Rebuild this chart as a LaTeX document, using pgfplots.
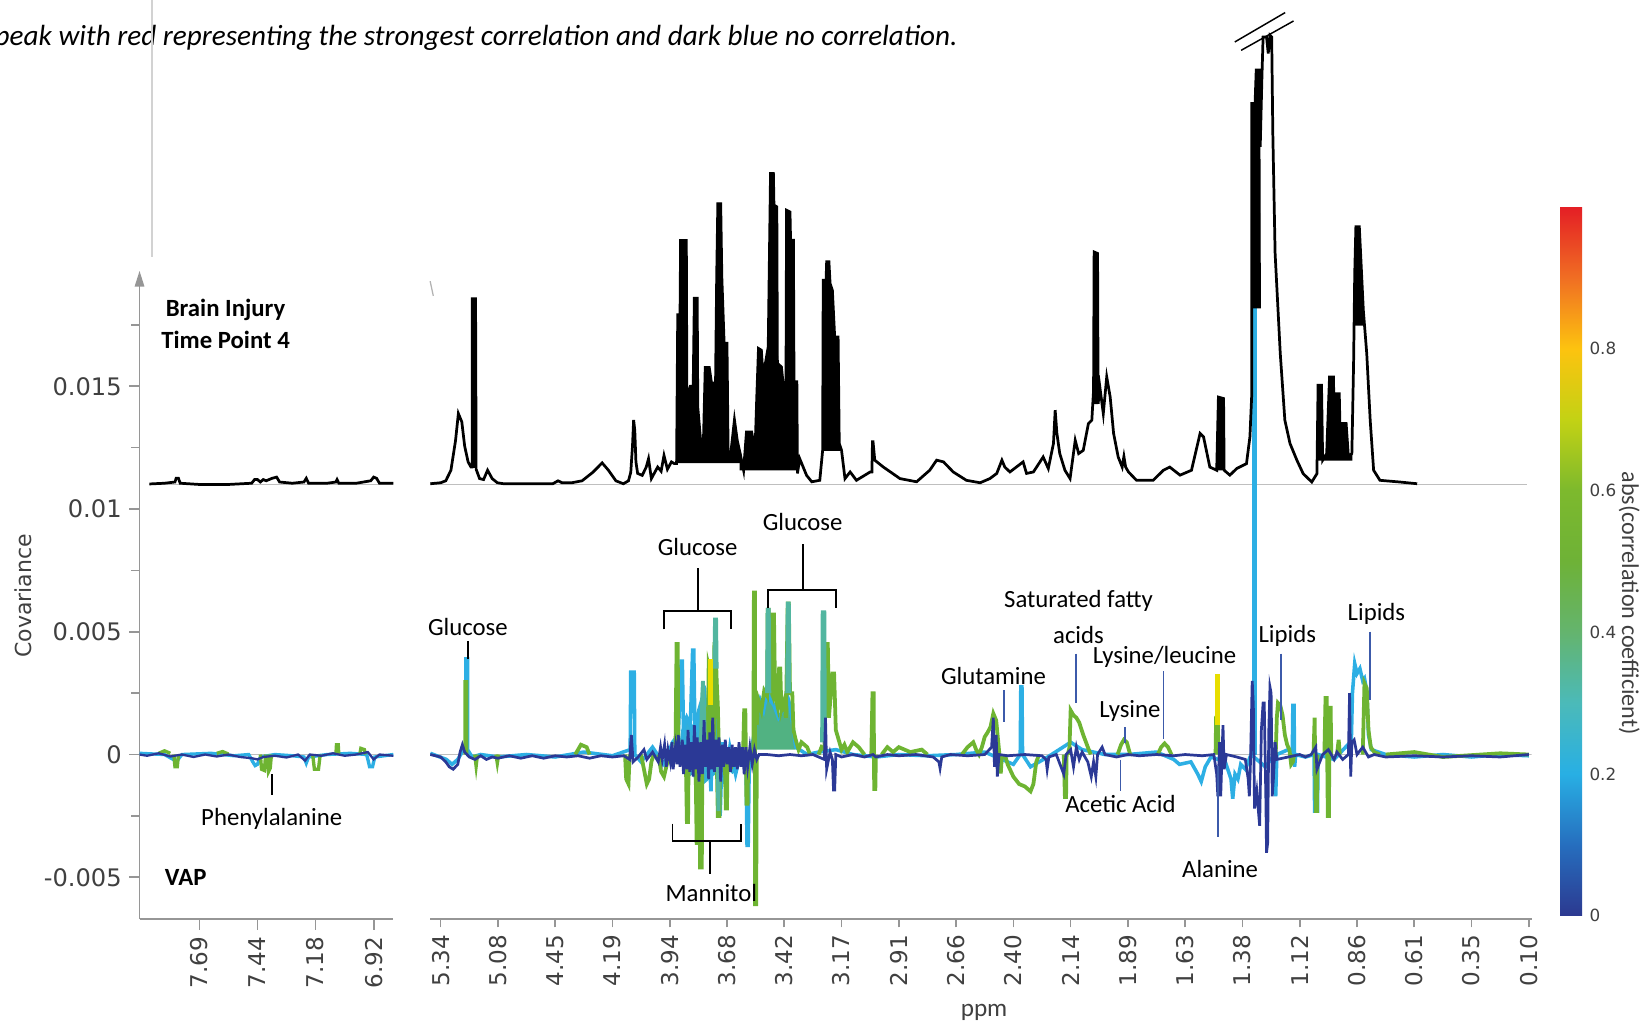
\documentclass[border=0pt]{standalone}
\usepackage{pgfplots}
\pgfplotsset{compat=1.18}
\usepackage{fontspec}
\setmainfont{Carlito}
\newfontfamily\dejavu{DejaVu Sans}
\usetikzlibrary{arrows.meta}

\definecolor{cdb}{RGB}{43,57,150}
\definecolor{clb}{RGB}{45,175,228}
\definecolor{cteal}{RGB}{82,182,160}
\definecolor{cgr}{RGB}{110,180,50}
\definecolor{cyel}{RGB}{232,222,0}
\definecolor{cptr}{RGB}{60,90,170}
\definecolor{axgray}{RGB}{150,150,150}
\definecolor{txtgray}{RGB}{64,64,64}

\pgfplotsset{colormap={corr}{rgb255(0cm)=(44,57,144) rgb255(1cm)=(38,110,190) rgb255(2cm)=(40,175,228) rgb255(3cm)=(75,186,185) rgb255(4cm)=(100,180,110) rgb255(5cm)=(110,178,55) rgb255(6cm)=(125,185,45) rgb255(7cm)=(195,210,20) rgb255(8cm)=(253,195,15) rgb255(9cm)=(240,110,35) rgb255(10cm)=(228,30,37)}}

\newcommand\annfont{\fontsize{11.8}{12}\selectfont}

\begin{document}
\begin{tikzpicture}
\path[use as bounding box] (0,0) rectangle (784pt,489.5pt);
\node[anchor=east, font=\itshape\fontsize{13.9}{14}\selectfont, inner sep=0pt] at (456.5pt,471.5pt) {peak with red representing the strongest correlation and dark blue no correlation.};
\draw[gray!35, line width=0.6pt] (72.5pt,489.5pt) -- (72.5pt,367pt);

% ---------------- left panel ----------------
\begin{axis}[
  at={(66.5pt,51.5pt)}, anchor=south west,
  scale only axis, width=121pt, height=308.9pt,
  xmin=-1.03, xmax=3.34, ymin=-6.7, ymax=19.7,
  axis x line=bottom, axis y line=left,
  axis line style={axgray, line width=0.8pt},
  x axis line style={-},
  y axis line style={-{Triangle[width=4.5pt,length=7.5pt]}},
  xtick={0,1,2,3}, xticklabels={7.69,7.44,7.18,6.92},
  ytick={-5,0,5,10,15}, yticklabels={-0.005,0,0.005,0.01,0.015},
  minor ytick={-2.5,2.5,7.5,12.5,17.5},
  tick align=outside, major tick length=5pt, minor tick length=4pt,
  tick style={axgray, line width=0.8pt},
  xticklabel style={rotate=90, anchor=east, font=\dejavu\fontsize{11}{11}\selectfont, text=txtgray},
  yticklabel style={font=\dejavu\fontsize{11.5}{12}\selectfont, text=txtgray},
  unbounded coords=jump,
]
\addplot[gray!50, line width=0.4pt] coordinates {(-1.03,0) (3.34,0)};
\addplot[gray!50, line width=0.4pt] coordinates {(-0.86,11.0) (3.34,11.0)};
\addplot[clb, line width=1.6pt] coordinates {(-1.03,0.05)(-0.6,0)(-0.45,-0.2)(-0.40,-0.3)(-0.30,0)(0.2,0.05)(0.6,-0.05)(0.85,0)(0.92,-0.3)(0.96,-0.45)(1.0,-0.4)(1.05,-0.1)(1.3,0)(1.6,-0.05)(1.80,-0.1)(1.84,-0.35)(1.88,-0.1)(2.2,0)(2.6,0.05)(2.88,0)(2.93,-0.5)(2.98,-0.5)(3.02,-0.1)(3.34,0)};
\addplot[cgr, line width=1.6pt] coordinates {(-0.44,0)(-0.42,-0.5)(-0.38,-0.5)(-0.36,0) (0,nan) (-0.7,0.05)(-0.6,0.15)(-0.5,0.05) (0,nan) (1.05,0)(1.07,-0.6)(1.12,-0.65)(1.14,0) (0,nan) (1.17,0)(1.19,-0.7)(1.22,-0.55)(1.24,0) (0,nan) (1.95,0)(1.98,-0.6)(2.05,-0.6)(2.08,0) (0,nan) (2.35,0)(2.36,0.4)(2.39,0.4)(2.40,0) (0,nan) (2.76,0)(2.78,0.25)(2.84,0.2)(2.86,0) (0,nan) (0.3,0.05)(0.4,0.12)(0.5,0.02)};
\addplot[cdb, line width=1.1pt] coordinates {(-1.03,0)(-0.9,-0.05)(-0.7,0.05)(-0.5,-0.08)(-0.3,0)(-0.1,-0.1)(0.1,0)(0.3,-0.08)(0.5,0)(0.7,-0.1)(0.9,-0.15)(1.0,-0.2)(1.1,-0.1)(1.3,-0.05)(1.5,-0.12)(1.7,0)(1.82,-0.25)(1.9,0)(2.1,-0.05)(2.3,0.05)(2.5,-0.05)(2.7,0)(2.9,0.1)(3.0,-0.2)(3.1,0)(3.34,-0.05)};
\addplot[black, line width=1.3pt] coordinates {(-0.86,11.02)(-0.6,11.05)(-0.42,11.1)(-0.40,11.25)(-0.36,11.25)(-0.33,11.05)(0,11.0)(0.5,11.0)(0.9,11.05)(0.95,11.2)(1.0,11.2)(1.05,11.1)(1.10,11.2)(1.15,11.15)(1.25,11.25)(1.33,11.3)(1.38,11.1)(1.6,11.05)(1.8,11.1)(1.84,11.25)(1.88,11.05)(2.2,11.05)(2.35,11.1)(2.37,11.2)(2.40,11.05)(2.7,11.05)(2.95,11.15)(3.0,11.3)(3.05,11.25)(3.1,11.05)(3.34,11.05)};
\end{axis}

% ---------------- right panel ----------------
\begin{axis}[
  at={(205pt,51.5pt)}, anchor=south west,
  scale only axis, width=525pt, height=429.4pt,
  xmin=-0.183, xmax=19.05, ymin=-6.7, ymax=30,
  axis x line=bottom, axis y line=none,
  axis line style={axgray, line width=0.8pt, -},
  xtick={0,1,2,3,4,5,6,7,8,9,10,11,12,13,14,15,16,17,18,19},
  xticklabels={5.34,5.08,4.45,4.19,3.94,3.68,3.42,3.17,2.91,2.66,2.40,2.14,1.89,1.63,1.38,1.12,0.86,0.61,0.35,0.10},
  ytick=\empty,
  tick align=outside, major tick length=4pt,
  tick style={axgray, line width=0.8pt},
  xticklabel style={rotate=90, anchor=east, font=\dejavu\fontsize{11}{11}\selectfont, text=txtgray},
  unbounded coords=jump,
  colormap name=corr, point meta min=0, point meta max=1,
  colorbar,
  colorbar style={at={(parent axis.south east)}, anchor=south west, xshift=5pt, yshift=1.5pt,
    width=10.5pt, height=338pt, ytick={0,0.2,0.4,0.6,0.8}, yticklabels={0,0.2,0.4,0.6,0.8},
    yticklabel style={font=\dejavu\fontsize{8}{8}\selectfont, text=txtgray},
    axis line style={draw=none}, major tick length=0pt},
]
\addplot[gray!50, line width=0.4pt] coordinates {(-0.18,0) (19.05,0)};
\addplot[gray!50, line width=0.4pt] coordinates {(-0.18,11.0) (18.97,11.0)};
% light blue / teal body areas
\addplot[fill=clb!85!cteal, draw=none] coordinates {(4.15,0)(4.2,1.0)(4.3,1.5)(4.4,1.2)(4.5,2.0)(4.6,2.8)(4.66,2.0)(4.72,1.2)(4.78,2.5)(4.82,1.0)(4.9,0.5)(5.0,0.3)(5.0,0)} -- cycle;
\addplot[fill=clb!80!cteal, draw=none] coordinates {(4.25,0)(4.3,-1.0)(4.4,-0.8)(4.5,-1.5)(4.6,-1.2)(4.7,-1.0)(4.8,-0.8)(4.9,-1.0)(5.0,-0.6)(5.1,-0.8)(5.2,-0.5)(5.3,-0.3)(5.3,0)} -- cycle;
\addplot[fill=cgr!55!clb, draw=none] coordinates {(5.50,0.2)(5.52,1.5)(5.58,2.4)(5.64,2.0)(5.70,2.8)(5.76,2.5)(5.82,2.2)(5.90,1.6)(5.98,2.0)(6.04,2.8)(6.10,2.2)(6.16,1.0)(6.20,0.2)} -- cycle;
% light blue
\addplot[clb, line width=1.7pt] coordinates {(-0.18,0.05) (0.1,-0.2) (0.2,-0.4) (0.3,-0.2) (0.40,0.2) (0.44,0.2) (0.44,3.9) (0.47,3.9) (0.47,0.2) (0.55,-0.1) (0.7,0) (1.0,-0.1) (1.5,0) (2.0,-0.1) (2.5,0.1) (3.0,-0.05) (3.31,0.2) (3.32,3.36) (3.38,3.36) (3.39,0) (3.5,-0.3) (3.7,0.3) (3.9,-0.4) (4.05,0.5) (4.15,0.8) (4.20,3.8) (4.22,3.8) (4.24,1.0) (4.30,1.5) (4.36,1.2) (4.40,4.25) (4.42,4.25) (4.44,1.0) (4.50,1.5) (4.56,2.0) (4.60,2.8) (4.64,1.5) (4.68,0.5) (4.72,-1.5) (4.76,2.5) (4.80,4.0) (4.84,1.0) (4.88,-2.5) (4.92,0.5) (4.96,-1.2) (5.05,0.3) (5.15,-0.8) (5.25,0.2) (5.33,0) (5.35,-3.7) (5.37,-3.7) (5.39,0) (5.45,0.5) (5.52,1.5) (5.58,2.2) (5.64,1.8) (5.70,2.5) (5.76,2.2) (5.82,2.0) (5.90,1.5) (5.98,1.8) (6.04,2.5) (6.10,2.0) (6.16,1.0) (6.20,0.3) (6.4,0) (6.6,0.1) (6.9,0.2) (7.2,0) (7.6,-0.1) (8.0,0) (8.5,-0.05) (9.0,0) (9.5,0.1) (10.0,-0.4) (10.12,0) (10.13,2.75) (10.15,2.75) (10.16,0) (10.3,-0.5) (10.6,-0.1) (11.0,0.5) (11.2,0.2) (11.6,0) (12.0,0) (12.5,0.1) (12.8,-0.2) (12.9,-0.4) (13.1,-0.3) (13.22,-0.8) (13.28,-1.1) (13.35,-0.5) (13.45,-0.1) (13.7,-0.3) (13.80,-1.0) (13.83,-1.8) (13.87,-0.8) (13.92,-1.0) (13.97,-0.4) (14.05,-0.6) (14.15,0) (14.40,-0.5) (14.56,0) (14.58,-1.7) (14.60,0) (14.80,0.2) (14.87,0) (14.88,2.0) (14.90,2.0) (14.91,-0.5) (14.93,0) (15.1,-0.1) (15.25,0) (15.26,-2.3) (15.31,-2.3) (15.32,0) (15.6,-0.2) (15.88,0.5) (15.90,0.5) (15.92,2.5) (15.96,3.7) (16.00,3.3) (16.05,3.5) (16.10,3.0) (16.13,3.1) (16.17,2.6) (16.20,0.8) (16.25,0.2) (16.5,0) (17.0,-0.1) (17.5,0) (18.0,-0.1) (18.5,0) (19.0,-0.05)};
\addplot[fill=clb, draw=clb, line width=0.3pt] coordinates {(14.165,0) (14.165,18.5) (14.245,18.5) (14.245,0)} -- cycle;
% green
\addplot[cgr, line width=1.8pt] coordinates {(0.43,0)(0.43,2.95)(0.45,2.95)(0.45,0) (0,nan) (0.60,0)(0.62,-0.4)(0.64,0) (0,nan) (0.97,0)(0.99,-0.3)(1.01,0) (0,nan) (2.35,0)(2.45,0.4)(2.55,0.3)(2.6,0) (0,nan) (3.22,0)(3.24,-1.0)(3.28,-1.2)(3.30,0) (0,nan) (3.50,0)(3.55,-0.6)(3.60,-1.2)(3.64,-1.0)(3.68,-0.3)(3.72,0) (0,nan) (3.80,0)(3.85,-0.7)(3.9,-0.9)(3.95,-0.4)(4.0,0) (0,nan) (4.10,0)(4.12,4.5)(4.14,4.5)(4.15,0) (0,nan) (4.28,0)(4.30,-2.75)(4.32,-2.75)(4.33,0) (0,nan) (4.45,0)(4.47,-3.6)(4.49,-3.6)(4.50,0) (0,nan) (4.52,0)(4.53,-4.6)(4.56,-4.6)(4.57,0) (0,nan) (4.66,0)(4.68,3.6)(4.72,3.2)(4.74,0) (0,nan) (4.77,0.5)(4.78,4.5)(4.80,4.5)(4.82,3.0)(4.84,2.0)(4.86,0) (0,nan) (4.82,0)(4.84,-2.5)(4.87,-2.5)(4.88,0) (0,nan) (4.96,0)(4.98,-2.2)(5.00,-2.2)(5.01,0) (0,nan) (5.05,0)(5.07,-0.6)(5.1,0) (0,nan) (5.28,0)(5.30,1.8)(5.32,1.8)(5.33,0)(5.34,-2.0)(5.36,-2.0)(5.37,0) (0,nan) (5.46,0)(5.47,6.6)(5.49,6.6)(5.49,-6.1)(5.51,-6.1)(5.52,0) (0,nan) (5.52,1.2)(5.55,2.2)(5.60,1.8)(5.65,2.6)(5.70,2.4)(5.71,5.9)(5.73,5.9)(5.75,2.8)(5.79,2.5)(5.80,5.7)(5.82,5.7)(5.84,2.4)(5.88,2.0)(5.91,3.5)(5.93,3.5)(5.95,1.8)(6.0,2.2)(6.03,1.5)(6.06,6.15)(6.08,6.15)(6.10,2.5)(6.14,2.5)(6.16,1.0)(6.20,0.6)(6.25,0.2)(6.3,0.5)(6.4,0.3)(6.45,0) (0,nan) (6.60,0)(6.65,0.3)(6.7,0.2)(6.74,4.5)(6.76,4.5)(6.78,1.5)(6.84,3.3)(6.87,3.3)(6.90,1.0)(6.95,0.6)(7.0,0.2)(7.05,0.4)(7.1,0.1)(7.2,0.5)(7.3,0.3)(7.4,0) (0,nan) (7.52,0)(7.54,2.5)(7.56,2.5)(7.57,-1.4)(7.59,-1.4)(7.60,0) (0,nan) (7.7,0)(7.8,0.3)(7.9,0.1)(8.0,0.3)(8.2,0.1)(8.4,0.2)(8.5,0) (0,nan) (9.1,0)(9.2,0.3)(9.3,0.5)(9.35,0.2)(9.40,0)(9.45,0.3)(9.50,0.72)(9.55,0.9)(9.60,1.12)(9.65,1.67)(9.70,1.39)(9.75,0.17)(9.78,-0.77)(9.80,0) (0,nan) (9.85,0)(9.9,-0.4)(10.0,-0.9)(10.1,-1.2)(10.2,-1.3)(10.3,-1.5)(10.35,-1.2)(10.40,-0.3)(10.45,0) (0,nan) (10.88,0)(10.90,-1.73)(10.92,-1.73)(10.93,0) (0,nan) (10.95,0)(10.98,0.3)(11.0,1.8)(11.05,1.6)(11.1,1.5)(11.15,1.3)(11.22,0.8)(11.3,0.3)(11.35,0) (0,nan) (11.82,0)(11.88,0.4)(11.93,0.6)(11.98,0.5)(12.04,0) (0,nan) (12.52,0)(12.58,0.3)(12.64,0.45)(12.70,0.3)(12.76,0) (0,nan) (13.53,0)(13.54,1.5)(13.57,1.5)(13.58,0) (0,nan) (14.58,0)(14.60,1.5)(14.62,2.1)(14.66,2.0)(14.70,1.6)(14.74,0.8)(14.78,0.4)(14.82,0.2)(14.85,-0.4)(14.88,-0.3)(14.9,0) (0,nan) (15.24,0)(15.26,1.5)(15.28,-2.3)(15.30,-2.3)(15.31,0) (0,nan) (15.43,0)(15.45,2.3)(15.47,2.3)(15.49,-2.5)(15.51,-2.5)(15.52,1.9)(15.54,1.9)(15.55,0) (0,nan) (15.65,0)(15.68,0.6)(15.70,0) (0,nan) (16.10,0)(16.13,2.9)(16.17,2.7)(16.20,1.0)(16.24,0.3)(16.3,0.1)(16.4,0) (0,nan) (16.5,0)(17.0,0.1)(17.5,-0.1)(18.5,0.05)(19.0,0)};
% teal
\addplot[cteal, line width=1.8pt] coordinates {(4.54,0)(4.56,2.0)(4.58,3.0)(4.60,1.8)(4.62,0) (0,nan) (4.78,3.5)(4.79,5.5)(4.81,5.5)(4.82,3.5) (0,nan) (5.70,2.5)(5.71,5.9)(5.73,5.9)(5.74,2.5) (0,nan) (6.05,2.5)(6.06,6.15)(6.08,6.15)(6.09,2.5) (0,nan) (6.66,0.5)(6.67,5.8)(6.70,5.8)(6.71,0.5) (0,nan) (4.83,0)(4.85,-2.3)(4.86,0)};
% yellow
\addplot[cyel, line width=1.8pt] coordinates {(4.70,2.0)(4.70,3.8)(4.72,3.8)(4.72,2.0) (0,nan) (13.55,1.2)(13.55,3.2)(13.57,3.2)(13.57,1.2)};
% dark blue
\addplot[cdb, line width=1.3pt] coordinates {(-0.18,0)(0.0,-0.1)(0.09,-0.3)(0.15,-0.5)(0.22,-0.6)(0.30,-0.4)(0.34,0.1)(0.38,0.4)(0.42,0.1)(0.50,-0.1)(0.6,-0.2)(0.7,-0.05)(0.8,-0.2)(0.9,-0.1)(1.0,-0.15)(1.2,-0.05)(1.4,-0.15)(1.6,-0.05)(1.8,-0.15)(2.0,-0.05)(2.2,-0.1)(2.4,-0.05)(2.6,-0.15)(2.8,-0.05)(3.0,-0.1)(3.2,-0.05)(3.30,-0.2)(3.33,0.8)(3.36,-0.3)(3.45,-0.1)(3.55,0.2)(3.6,-0.2)(3.7,0.1)(3.80,-0.3)(3.84,0.3)(3.87,-0.2)(3.91,0.4)(3.94,-0.5)(3.97,0.2)(4.01,-0.3)(4.04,0.5)(4.06,-0.6)(4.10,0.3)(4.13,-0.4)(4.15,0.8)(4.18,-0.5)(4.22,0.6)(4.24,-0.8)(4.27,0.4)(4.30,-0.6)(4.32,1.0)(4.35,-0.7)(4.38,0.5)(4.41,-0.9)(4.43,1.2)(4.46,-0.6)(4.48,0.7)(4.51,-1.1)(4.54,0.5)(4.57,-0.8)(4.60,1.4)(4.62,-0.5)(4.65,0.6)(4.68,-1.0)(4.70,0.9)(4.73,-0.6)(4.75,1.5)(4.78,-0.7)(4.81,0.6)(4.84,-0.5)(4.86,0.7)(4.89,-1.1)(4.92,0.4)(4.94,-0.5)(4.97,0.6)(5.00,-0.4)(5.03,0.3)(5.06,-0.7)(5.09,0.4)(5.12,-0.5)(5.15,0.3)(5.18,-0.6)(5.21,0.5)(5.24,-0.5)(5.27,0.3)(5.30,-0.8)(5.33,0.3)(5.36,-0.5)(5.40,0.3)(5.44,-0.4)(5.48,0.2)(5.52,-0.2)(5.56,0)(5.7,0)(5.9,-0.05)(6.1,0)(6.3,-0.05)(6.5,0)(6.6,-0.1)(6.70,-0.2)(6.72,1.5)(6.74,-0.6)(6.80,0.1)(6.84,-0.2)(6.86,-1.45)(6.88,-1.45)(6.90,0)(7.0,-0.1)(7.2,0)(7.4,-0.1)(7.55,0)(7.6,-0.1)(7.8,0)(8.0,-0.05)(8.3,0)(8.6,-0.1)(8.70,-0.3)(8.72,-0.56)(8.75,-0.1)(8.9,0)(9.2,-0.05)(9.5,0)(9.62,0.3)(9.65,1.5)(9.67,-0.5)(9.70,0.8)(9.72,-0.9)(9.75,0)(9.9,-0.05)(10.2,0)(10.5,-0.05)(10.57,-0.2)(10.59,-0.6)(10.62,-0.1)(10.75,0)(10.88,-0.8)(10.92,0)(11.0,0.2)(11.05,-0.5)(11.10,0.3)(11.15,-0.2)(11.2,0.1)(11.3,-0.3)(11.36,-0.9)(11.40,-0.3)(11.44,-0.9)(11.47,0)(11.55,0.3)(11.6,0)(11.8,-0.1)(12.0,0)(12.2,-0.05)(12.5,0)(12.8,-0.05)(13.0,0)(13.3,-0.05)(13.5,0)(13.55,-0.8)(13.57,-1.7)(13.60,0.5)(13.62,-1.7)(13.64,-0.2)(13.66,1.2)(13.68,-0.6)(13.72,0)(13.9,-0.1)(14.05,-0.2)(14.10,-1.0)(14.12,-1.7)(14.14,-0.3)(14.17,3.0)(14.19,2.0)(14.21,-2.2)(14.25,-1.5)(14.30,-2.9)(14.33,1.0)(14.36,2.1)(14.38,2.1)(14.41,-2.0)(14.42,-4.0)(14.44,-3.6)(14.46,1.0)(14.48,2.75)(14.50,2.5)(14.52,-1.7)(14.54,-1.0)(14.57,0.5)(14.60,-0.2)(14.8,-0.1)(15.0,0)(15.1,-0.1)(15.2,0)(15.28,0.3)(15.30,-0.6)(15.4,0)(15.5,0.2)(15.6,-0.2)(15.65,0.1)(15.75,-0.2)(15.85,0)(15.87,2.5)(15.89,-0.9)(15.91,0.5)(15.95,0.6)(16.0,0)(16.1,0.3)(16.2,-0.1)(16.3,0)(16.5,-0.1)(17.0,-0.05)(17.5,-0.1)(18.0,-0.05)(18.5,-0.1)(19.0,0)};
% black spectrum: dense clusters
\addplot[fill=black, draw=black, line width=0.6pt] coordinates {(0.55,11.7)(0.55,18.57)(0.61,18.57)(0.61,11.7)} -- cycle;
\addplot[fill=black, draw=black, line width=0.6pt] coordinates {(4.12,11.85)(4.14,17.91)(4.18,17.91)(4.19,20.94)(4.29,20.94)(4.30,14.49)(4.36,15.00)(4.41,15.00)(4.43,18.59)(4.48,18.59)(4.49,14.15)(4.54,12.78)(4.58,11.92)(4.62,15.77)(4.69,15.77)(4.73,15.13)(4.80,15.13)(4.82,19.44)(4.84,22.44)(4.89,22.44)(4.91,19.44)(4.95,16.75)(5.00,16.75)(5.02,12.26)(5.07,12.35)(5.13,13.63)(5.18,12.78)(5.23,12.26)(5.23,11.9)(4.12,11.9)} -- cycle;
\addplot[fill=black, draw=black, line width=0.6pt] coordinates {(5.23,12.26)(5.29,11.58)(5.34,13.14)(5.43,13.14)(5.49,12.39)(5.52,14.57)(5.55,16.54)(5.60,16.47)(5.63,15.38)(5.72,16.61)(5.76,23.67)(5.81,23.67)(5.82,22.38)(5.87,22.31)(5.88,15.93)(5.95,15.79)(5.98,15.11)(6.03,15.11)(6.04,22.17)(6.10,22.10)(6.11,20.95)(6.16,20.95)(6.17,15.18)(6.22,15.18)(6.23,11.6)(5.23,11.6)} -- cycle;
\addplot[fill=black, draw=black, line width=0.6pt] coordinates {(6.67,12.39)(6.68,19.32)(6.73,19.32)(6.74,20.07)(6.78,20.07)(6.80,19.19)(6.84,18.91)(6.88,17.01)(6.94,17.01)(6.96,12.67)(7.00,12.39)} -- cycle;
\addplot[fill=black, draw=black, line width=0.6pt] coordinates {(11.41,14.3)(11.41,20.47)(11.47,20.41)(11.47,14.3)} -- cycle;
\addplot[fill=black, draw=black, line width=0.6pt] coordinates {(13.58,11.6)(13.58,14.56)(13.67,14.50)(13.67,11.6)} -- cycle;
\addplot[fill=black, draw=black, line width=0.6pt] coordinates {(14.16,18.2)(14.16,26.52)(14.22,26.52)(14.24,27.88)(14.30,27.88)(14.31,18.2)} -- cycle;
\addplot[fill=black, draw=black, line width=0.6pt] coordinates {(15.30,11.44)(15.32,15.04)(15.38,15.04)(15.40,11.99)(15.47,12.26)(15.52,15.38)(15.59,15.38)(15.60,12.80)(15.64,14.70)(15.69,14.70)(15.71,12.53)(15.75,13.48)(15.81,13.48)(15.85,12.12)(15.91,12.26)(15.91,12.0)(15.30,12.0)} -- cycle;
\addplot[fill=black, draw=black, line width=0.6pt] coordinates {(15.96,17.5)(15.96,19.59)(15.98,21.50)(16.04,21.50)(16.06,20.54)(16.10,17.5)} -- cycle;
% black spectrum line
\addplot[black, line width=1.3pt] coordinates {(-0.18,11.03)(0.00,11.07)(0.09,11.15)(0.18,11.58)(0.26,12.78)(0.31,13.89)(0.37,13.55)(0.42,12.56)(0.48,11.92)(0.53,11.71)(0.55,11.71)(0.55,18.57)(0.61,18.57)(0.62,11.62)(0.68,11.24)(0.75,11.20)(0.82,11.58)(0.90,11.24)(0.99,11.07)(1.10,11.03)(1.96,11.03)(2.05,11.15)(2.12,11.07)(2.29,11.07)(2.47,11.15)(2.66,11.50)(2.82,11.88)(2.93,11.58)(3.06,11.15)(3.19,11.03)(3.28,11.15)(3.32,11.50)(3.35,12.56)(3.37,13.63)(3.39,13.21)(3.41,11.92)(3.44,11.45)(3.52,11.37)(3.59,11.71)(3.63,12.05)(3.68,11.24)(3.74,11.50)(3.79,11.71)(3.85,11.54)(3.90,12.18)(3.96,11.62)(4.03,11.92)(4.08,11.85)(4.12,11.85)(4.14,17.91)(4.18,17.91)(4.19,20.94)(4.29,20.94)(4.30,14.49)(4.36,15.00)(4.41,15.00)(4.43,18.59)(4.48,18.59)(4.49,14.15)(4.54,12.78)(4.58,11.92)(4.62,15.77)(4.69,15.77)(4.73,15.13)(4.80,15.13)(4.82,19.44)(4.84,22.44)(4.89,22.44)(4.91,19.44)(4.95,16.75)(5.00,16.75)(5.02,12.26)(5.07,12.35)(5.13,13.63)(5.18,12.78)(5.23,12.26)(5.29,11.58)(5.34,13.14)(5.43,13.14)(5.49,12.39)(5.52,14.57)(5.55,16.54)(5.60,16.47)(5.63,15.38)(5.72,16.61)(5.76,23.67)(5.81,23.67)(5.82,22.38)(5.87,22.31)(5.88,15.93)(5.95,15.79)(5.98,15.11)(6.03,15.11)(6.04,22.17)(6.10,22.10)(6.11,20.95)(6.16,20.95)(6.17,15.18)(6.22,15.18)(6.23,11.45)(6.27,12.05)(6.39,11.37)(6.48,11.11)(6.62,11.17)(6.67,12.39)(6.68,19.32)(6.73,19.32)(6.74,20.07)(6.78,20.07)(6.80,19.19)(6.84,18.91)(6.88,17.01)(6.94,17.01)(6.96,12.67)(7.00,12.39)(7.06,11.24)(7.15,11.51)(7.26,11.17)(7.50,11.51)(7.53,11.51)(7.54,12.74)(7.55,12.74)(7.58,11.99)(7.73,11.71)(8.02,11.24)(8.31,11.11)(8.54,11.58)(8.66,11.99)(8.78,11.92)(8.95,11.51)(9.18,11.17)(9.42,11.07)(9.59,11.24)(9.71,11.45)(9.80,11.99)(9.85,11.71)(9.94,11.51)(10.17,11.92)(10.23,11.45)(10.35,11.51)(10.52,12.12)(10.61,11.65)(10.70,12.67)(10.73,14.03)(10.76,13.08)(10.81,12.26)(10.90,11.58)(10.99,11.24)(11.08,12.80)(11.14,12.26)(11.22,12.39)(11.31,13.48)(11.37,13.62)(11.40,14.84)(11.41,20.47)(11.47,20.41)(11.48,14.29)(11.51,14.97)(11.57,13.89)(11.63,15.38)(11.69,14.57)(11.75,13.08)(11.83,12.12)(11.90,11.71)(11.93,12.14)(11.96,11.71)(12.01,11.51)(12.15,11.17)(12.44,11.17)(12.62,11.58)(12.73,11.71)(12.91,11.38)(13.11,11.58)(13.26,13.08)(13.32,12.94)(13.43,11.71)(13.55,11.58)(13.58,14.56)(13.67,14.50)(13.68,11.58)(13.78,11.38)(13.90,11.65)(14.07,11.85)(14.13,12.94)(14.16,14.56)(14.16,26.52)(14.22,26.52)(14.24,27.88)(14.30,27.88)(14.31,24.75)(14.34,27.61)(14.36,29.23)(14.42,29.23)(14.45,28.56)(14.48,29.30)(14.51,29.23)(14.53,25.30)(14.57,20.41)(14.66,16.33)(14.74,13.62)(14.83,12.67)(14.95,11.99)(15.06,11.44)(15.21,11.10)(15.30,11.44)(15.32,15.04)(15.38,15.04)(15.40,11.99)(15.47,12.26)(15.52,15.38)(15.59,15.38)(15.60,12.80)(15.64,14.70)(15.69,14.70)(15.71,12.53)(15.75,13.48)(15.81,13.48)(15.85,12.12)(15.91,12.26)(15.94,15.92)(15.96,19.59)(15.98,21.50)(16.04,21.50)(16.06,20.54)(16.11,18.10)(16.17,16.33)(16.23,13.62)(16.29,11.58)(16.40,11.17)(16.75,11.10)(17.05,11.03)};
\end{axis}

% ---------------- annotations ----------------
\draw[gray!60, line width=0.6pt] (205pt,355.5pt) -- (206.5pt,348.5pt);
\draw[black, line width=0.7pt] (588.5pt,469.5pt) -- (612.5pt,483.5pt);
\draw[black, line width=0.7pt] (591.5pt,465.5pt) -- (616.5pt,479.5pt);

\node[font=\bfseries\annfont] at (107.5pt,342pt) {Brain Injury};
\node[font=\bfseries\annfont] at (107.5pt,327.5pt) {Time Point 4};
\node[font=\bfseries\annfont] at (88.5pt,71.5pt) {VAP};
\node[font=\annfont] at (129.5pt,99pt) {Phenylalanine};
\draw[black, line width=0.9pt] (129.5pt,120.5pt) -- (129.5pt,110.5pt);

\node[font=\annfont] at (223pt,190.5pt) {Glucose};
\draw[black, line width=0.9pt] (223pt,184pt) -- (223pt,175.5pt);
\node[font=\annfont] at (332.5pt,229pt) {Glucose};
\draw[black, line width=0.9pt] (316.5pt,189.5pt) -- (316.5pt,198.5pt) -- (348.5pt,198.5pt) -- (348.5pt,189.5pt);
\draw[black, line width=0.9pt] (332.5pt,198.5pt) -- (332.5pt,219pt);
\node[font=\annfont] at (382.5pt,240.5pt) {Glucose};
\draw[black, line width=0.9pt] (366pt,199.5pt) -- (366pt,208.5pt) -- (398.5pt,208.5pt) -- (398.5pt,199.5pt);
\draw[black, line width=0.9pt] (382.5pt,208.5pt) -- (382.5pt,230pt);
\node[font=\annfont] at (339pt,64pt) {Mannitol};
\draw[black, line width=0.9pt] (320.5pt,97pt) -- (320.5pt,88.5pt) -- (353pt,88.5pt) -- (353pt,97pt);
\draw[black, line width=0.9pt] (338.5pt,88.5pt) -- (338.5pt,73pt);

\node[font=\annfont] at (514pt,203pt) {Saturated fatty};
\node[font=\annfont] at (514pt,187pt) {acids};
\draw[cptr, line width=0.9pt] (513pt,178pt) -- (513pt,154.5pt);
\node[font=\annfont] at (473.5pt,167.5pt) {Glutamine};
\draw[cptr, line width=0.9pt] (478.5pt,160.5pt) -- (478.5pt,145.5pt);
\node[font=\annfont] at (555pt,176.5pt) {Lysine/leucine};
\draw[cptr, line width=0.9pt] (554.5pt,169.5pt) -- (554.5pt,137.5pt);
\node[font=\annfont] at (538.5pt,150.5pt) {Lysine};
\draw[cptr, line width=0.9pt] (536pt,143pt) -- (536pt,135.5pt);
\node[font=\annfont] at (534pt,106.5pt) {Acetic Acid};
\draw[cptr, line width=0.9pt] (534pt,127.5pt) -- (534pt,112.5pt);
\node[font=\annfont] at (581.5pt,75.5pt) {Alanine};
\draw[cptr, line width=0.9pt] (580.5pt,124.5pt) -- (580.5pt,90.5pt);
\node[font=\annfont] at (613.5pt,186.5pt) {Lipids};
\draw[cptr, line width=0.9pt] (610.5pt,178pt) -- (610.5pt,146.5pt);
\node[font=\annfont] at (656pt,197pt) {Lipids};
\draw[cptr, line width=0.9pt] (653pt,188.5pt) -- (653pt,156pt);

\node[rotate=90, font=\dejavu\fontsize{10.5}{11}\selectfont, text=txtgray] at (11pt,205.5pt) {Covariance};
\node[font=\fontsize{12}{12}\selectfont, text=txtgray] at (469pt,7pt) {ppm};
\node[rotate=-90, font=\fontsize{11.5}{12}\selectfont, text=txtgray] at (776.5pt,202pt) {abs(correlation coefficient)};
\end{tikzpicture}
\end{document}
